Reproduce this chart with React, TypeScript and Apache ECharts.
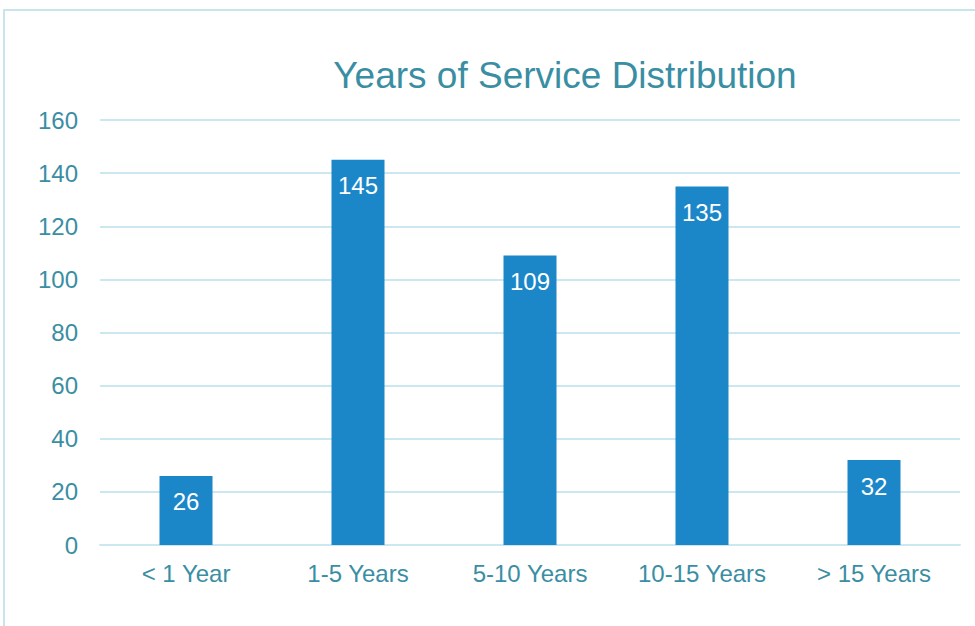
import React, { useEffect, useRef } from "react";
import * as echarts from "echarts";

const categories = ["< 1 Year", "1-5 Years", "5-10 Years", "10-15 Years", "> 15 Years"];
const values = [26, 145, 109, 135, 32];
const yTicks = { min: 0, max: 160, interval: 20 };

const TEXT = "#3A8EA3";
const GRID = "#CBE7F0";
const BAR = "#1B87C9";
const FONT = "'Liberation Sans', Arial, sans-serif";

export default function App() {
  const ref = useRef<HTMLDivElement>(null);
  useEffect(() => {
    const chart = echarts.init(ref.current!, null, { renderer: "svg" });
    chart.setOption({
      animation: false,
      backgroundColor: "#ffffff",
      textStyle: { fontFamily: FONT },
      title: {
        text: "Years of Service Distribution",
        left: 560,
        top: 52,
        textAlign: "center",
        textStyle: { color: TEXT, fontSize: 37, fontWeight: "normal", fontFamily: FONT },
      },
      graphic: [
        {
          type: "rect",
          shape: { x: 4, y: 10, width: 1100, height: 1100 },
          style: { fill: "none", stroke: "#C8E5EB", lineWidth: 2 },
          silent: true,
        },
      ],
      grid: { left: 100, right: 15, top: 120, bottom: 81 },
      xAxis: {
        type: "category",
        data: categories,
        axisLine: { show: true, lineStyle: { color: GRID, width: 2 } },
        axisTick: { show: false },
        axisLabel: { color: TEXT, fontSize: 24, margin: 16, fontFamily: FONT },
      },
      yAxis: {
        type: "value",
        min: yTicks.min,
        max: yTicks.max,
        interval: yTicks.interval,
        axisLine: { show: false },
        axisTick: { show: false },
        splitLine: { lineStyle: { color: GRID, width: 2 } },
        axisLabel: { color: TEXT, fontSize: 24, margin: 22, fontFamily: FONT },
      },
      series: [
        {
          type: "bar",
          data: values,
          barWidth: 53,
          itemStyle: { color: BAR },
          label: {
            show: true,
            position: "insideTop",
            distance: 14,
            color: "#ffffff",
            fontSize: 24,
            fontFamily: FONT,
          },
        },
      ],
    });
    return () => chart.dispose();
  }, []);
  return (
    <div
      ref={ref}
      style={{ position: "absolute", left: 0, top: 0, width: 975, height: 626 }}
    />
  );
}
